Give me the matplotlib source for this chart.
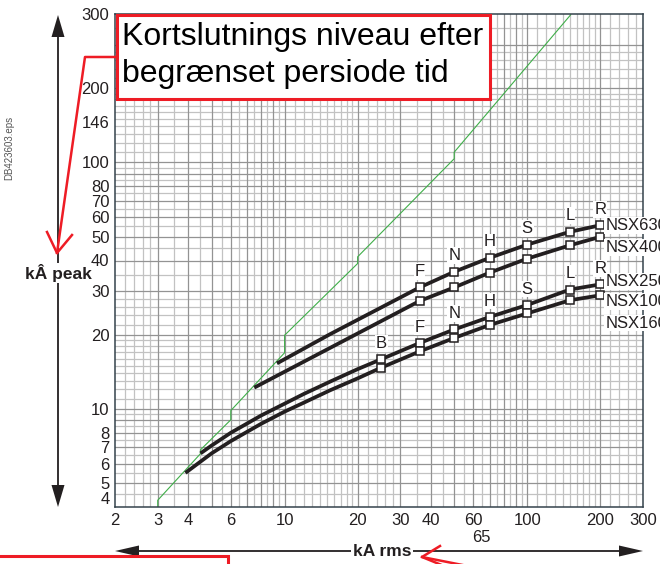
import numpy as np
import matplotlib.pyplot as plt
from matplotlib.patches import Rectangle, Polygon
from matplotlib.lines import Line2D

plt.rcParams['font.family'] = ['Liberation Sans', 'DejaVu Sans']

W, H = 660, 564

# breaker curves (kA rms -> kA peak)
nsx630_x = [9.3, 15.4, 36, 50, 70, 100, 150, 200]
nsx630_y = [15.3, 20.1, 31.1, 36, 41, 46.4, 52.3, 55.6]
nsx400_x = [7.5, 36, 50, 70, 100, 150, 200]
nsx400_y = [12.2, 27.4, 31.1, 35.7, 40.7, 46.1, 49.9]
nsx250_x = [4.5, 5, 6, 8, 10, 12, 15.4, 20, 25, 36, 50, 70, 100, 150, 200]
nsx250_y = [6.6, 7.1, 8.0, 9.4, 10.5, 11.5, 12.9, 14.5, 15.9, 18.5, 21.0, 23.6, 26.4, 30.5, 32.0]
nsx100_x = [3.9, 5, 6, 8, 10, 12, 15.4, 20, 25, 36, 50, 70, 100, 150, 200]
nsx100_y = [5.5, 6.6, 7.4, 8.7, 9.75, 10.6, 11.9, 13.3, 14.7, 17.1, 19.4, 21.9, 24.4, 27.6, 28.9]

upper_letters = ['F', 'N', 'H', 'S', 'L', 'R']
lower_letters = ['B', 'F', 'N', 'H', 'S', 'L', 'R']

# unlimited peak line (green)
green_x = [3, 3, 4.5, 4.5, 6, 6, 10, 10, 20, 20, 50, 50, 151]
green_y = [4.0, 4.26, 6.58, 6.82, 9.03, 9.84, 16.9, 19.9, 38.9, 41.4, 103.5, 110, 397]

x_ticks = [2, 3, 4, 6, 10, 20, 30, 40, 60, 100, 200, 300]
y_ticks = [4, 5, 6, 7, 8, 10, 20, 30, 40, 50, 60, 70, 80, 100, 146, 200, 400]
y_labels = ['4', '5', '6', '7', '8', '10', '20', '30', '40', '50', '60', '70', '80',
            '100', '146', '200', '300']


def px(x, y):
    return (x / W, 1 - y / H)


def grid_values(lo, hi):
    dark, light = [], []
    for d in [1, 10, 100, 1000]:
        dark += [k * d for k in range(1, 10)]
        light += [s * d for s in np.arange(1.1, 1.95, 0.1)]
        light += [s * d for s in [2.2, 2.4, 2.6, 2.8]]
        light += [s * d for s in np.arange(3.5, 10, 1.0)]
    dark = [v for v in dark if lo < v < hi]
    light = [v for v in light if lo < v < hi]
    return dark, light


fig = plt.figure(figsize=(W / 100, H / 100), dpi=100)
ax = fig.add_axes([115 / W, 1 - 507 / H, 528 / W, 493 / H])
ax.set_xscale('log')
ax.set_yscale('log')
ax.set_xlim(2, 300)
ax.set_ylim(4, 400)

dx, lx = grid_values(2, 300)
dy, ly = grid_values(4, 400)
for v in lx:
    ax.axvline(v, color='#c2c2c2', lw=0.9, zorder=0)
for v in ly:
    ax.axhline(v, color='#c2c2c2', lw=0.9, zorder=0)
for v in dx:
    ax.axvline(v, color='#939393', lw=0.9, zorder=0.5)
for v in dy:
    ax.axhline(v, color='#939393', lw=0.9, zorder=0.5)

ax.set_xticks(x_ticks, [str(t) for t in x_ticks])
ax.set_yticks(y_ticks, y_labels)
ax.minorticks_off()
ax.tick_params(length=0, labelsize=12, colors='#231f20')
ax.tick_params(axis='x', pad=4)
ax.tick_params(axis='y', pad=4)
ax.get_yticklabels()[0].set_va('bottom')
for s in ax.spines.values():
    s.set_color('#34424c')
    s.set_linewidth(1.1)

ax.plot(green_x, green_y, color='#3fae49', lw=0.8, zorder=2)

ink = '#231f20'
curves = [(nsx630_x, nsx630_y, 2), (nsx400_x, nsx400_y, 1),
          (nsx250_x, nsx250_y, 8), (nsx100_x, nsx100_y, 8)]
for cx, cy, m in curves:
    ax.plot(cx, cy, color=ink, lw=2.7, solid_capstyle='butt', solid_joinstyle='round',
            zorder=3)
    ax.plot(cx[m:], cy[m:], 's', ms=6, mfc='white', mec=ink, mew=1.1, zorder=4)

wbox = dict(fc='white', ec='none', pad=0.6)
for lab, xv, yv in zip(upper_letters, nsx630_x[2:], nsx630_y[2:]):
    ax.annotate(lab, (xv, yv), xytext=(0, 11.5), textcoords='offset points',
                ha='center', va='center', fontsize=12, color=ink, bbox=wbox, zorder=5)
for lab, xv, yv in zip(lower_letters, nsx250_x[8:], nsx250_y[8:]):
    ax.annotate(lab, (xv, yv), xytext=(0, 11.5), textcoords='offset points',
                ha='center', va='center', fontsize=12, color=ink, bbox=wbox, zorder=5)

names = [('NSX630', nsx630_y[-1], 0), ('NSX400', nsx400_y[-1], -7.5),
         ('NSX250', nsx250_y[-1], 2), ('NSX100', nsx100_y[-1], -4.5),
         ('NSX160', nsx100_y[-1], -20)]
for name, yv, off in names:
    ax.annotate(name, (200, yv), xytext=(3.5, off), textcoords='offset points',
                ha='left', va='center', fontsize=12, color=ink, bbox=wbox,
                zorder=5, annotation_clip=False)

ax.text(65, -0.061, '65', transform=ax.get_xaxis_transform(), ha='center',
        va='center', fontsize=12, color=ink)

# red call-out box at the top
fig.add_artist(Rectangle(px(117, 99), 373 / W, 84 / H, transform=fig.transFigure,
                         fc='white', ec='#ee1c25', lw=2.2, zorder=5))
fig.text(*px(122, 45), 'Kortslutnings niveau efter', fontsize=23, va='baseline',
         color='black', zorder=6)
fig.text(*px(122, 82), 'begrænset persiode tid', fontsize=23, va='baseline',
         color='black', zorder=6)
red_lines = [[(117, 57), (85, 57), (57, 253)], [(47, 232), (57, 253), (72, 235)],
             [(498, 572), (422, 557)], [(440, 546), (422, 557), (444, 566)]]
for pts in red_lines:
    xs, ys = zip(*[px(a, b) for a, b in pts])
    fig.add_artist(Line2D(xs, ys, transform=fig.transFigure, color='#ee1c25',
                          lw=1.8, zorder=7))
fig.add_artist(Rectangle(px(-5, 580), 233 / W, 24 / H, transform=fig.transFigure,
                         fc='white', ec='#ee1c25', lw=2.2, zorder=5))

# black axis arrows
fig.add_artist(Line2D(*zip(px(58, 35), px(58, 487)), transform=fig.transFigure,
                      color=ink, lw=1.3, zorder=3))
fig.add_artist(Polygon([px(58, 15), px(51.5, 37), px(64.5, 37)], closed=True,
                       transform=fig.transFigure, fc=ink, ec='none', zorder=3))
fig.add_artist(Polygon([px(58, 507), px(51.5, 485), px(64.5, 485)], closed=True,
                       transform=fig.transFigure, fc=ink, ec='none', zorder=3))
fig.text(*px(58, 273), 'kÂ peak', fontsize=12.5, fontweight='bold', ha='center',
         va='center', color=ink, zorder=4, bbox=dict(fc='white', ec='none', pad=1))

fig.add_artist(Line2D(*zip(px(135, 551), px(623, 551)), transform=fig.transFigure,
                      color=ink, lw=1.3, zorder=3))
fig.add_artist(Polygon([px(115, 551), px(139, 545.5), px(139, 556.5)], closed=True,
                       transform=fig.transFigure, fc=ink, ec='none', zorder=3))
fig.add_artist(Polygon([px(643, 551), px(619, 545.5), px(619, 556.5)], closed=True,
                       transform=fig.transFigure, fc=ink, ec='none', zorder=3))
fig.text(*px(382, 552), 'kA rms', fontsize=12.5, fontweight='bold', ha='center',
         va='center', color=ink, zorder=4, bbox=dict(fc='white', ec='none', pad=1))

fig.text(*px(9, 148), 'DB423603.eps', rotation=90, fontsize=7, color='#555555',
         ha='center', va='center')

fig.savefig('out.png', dpi=100)
